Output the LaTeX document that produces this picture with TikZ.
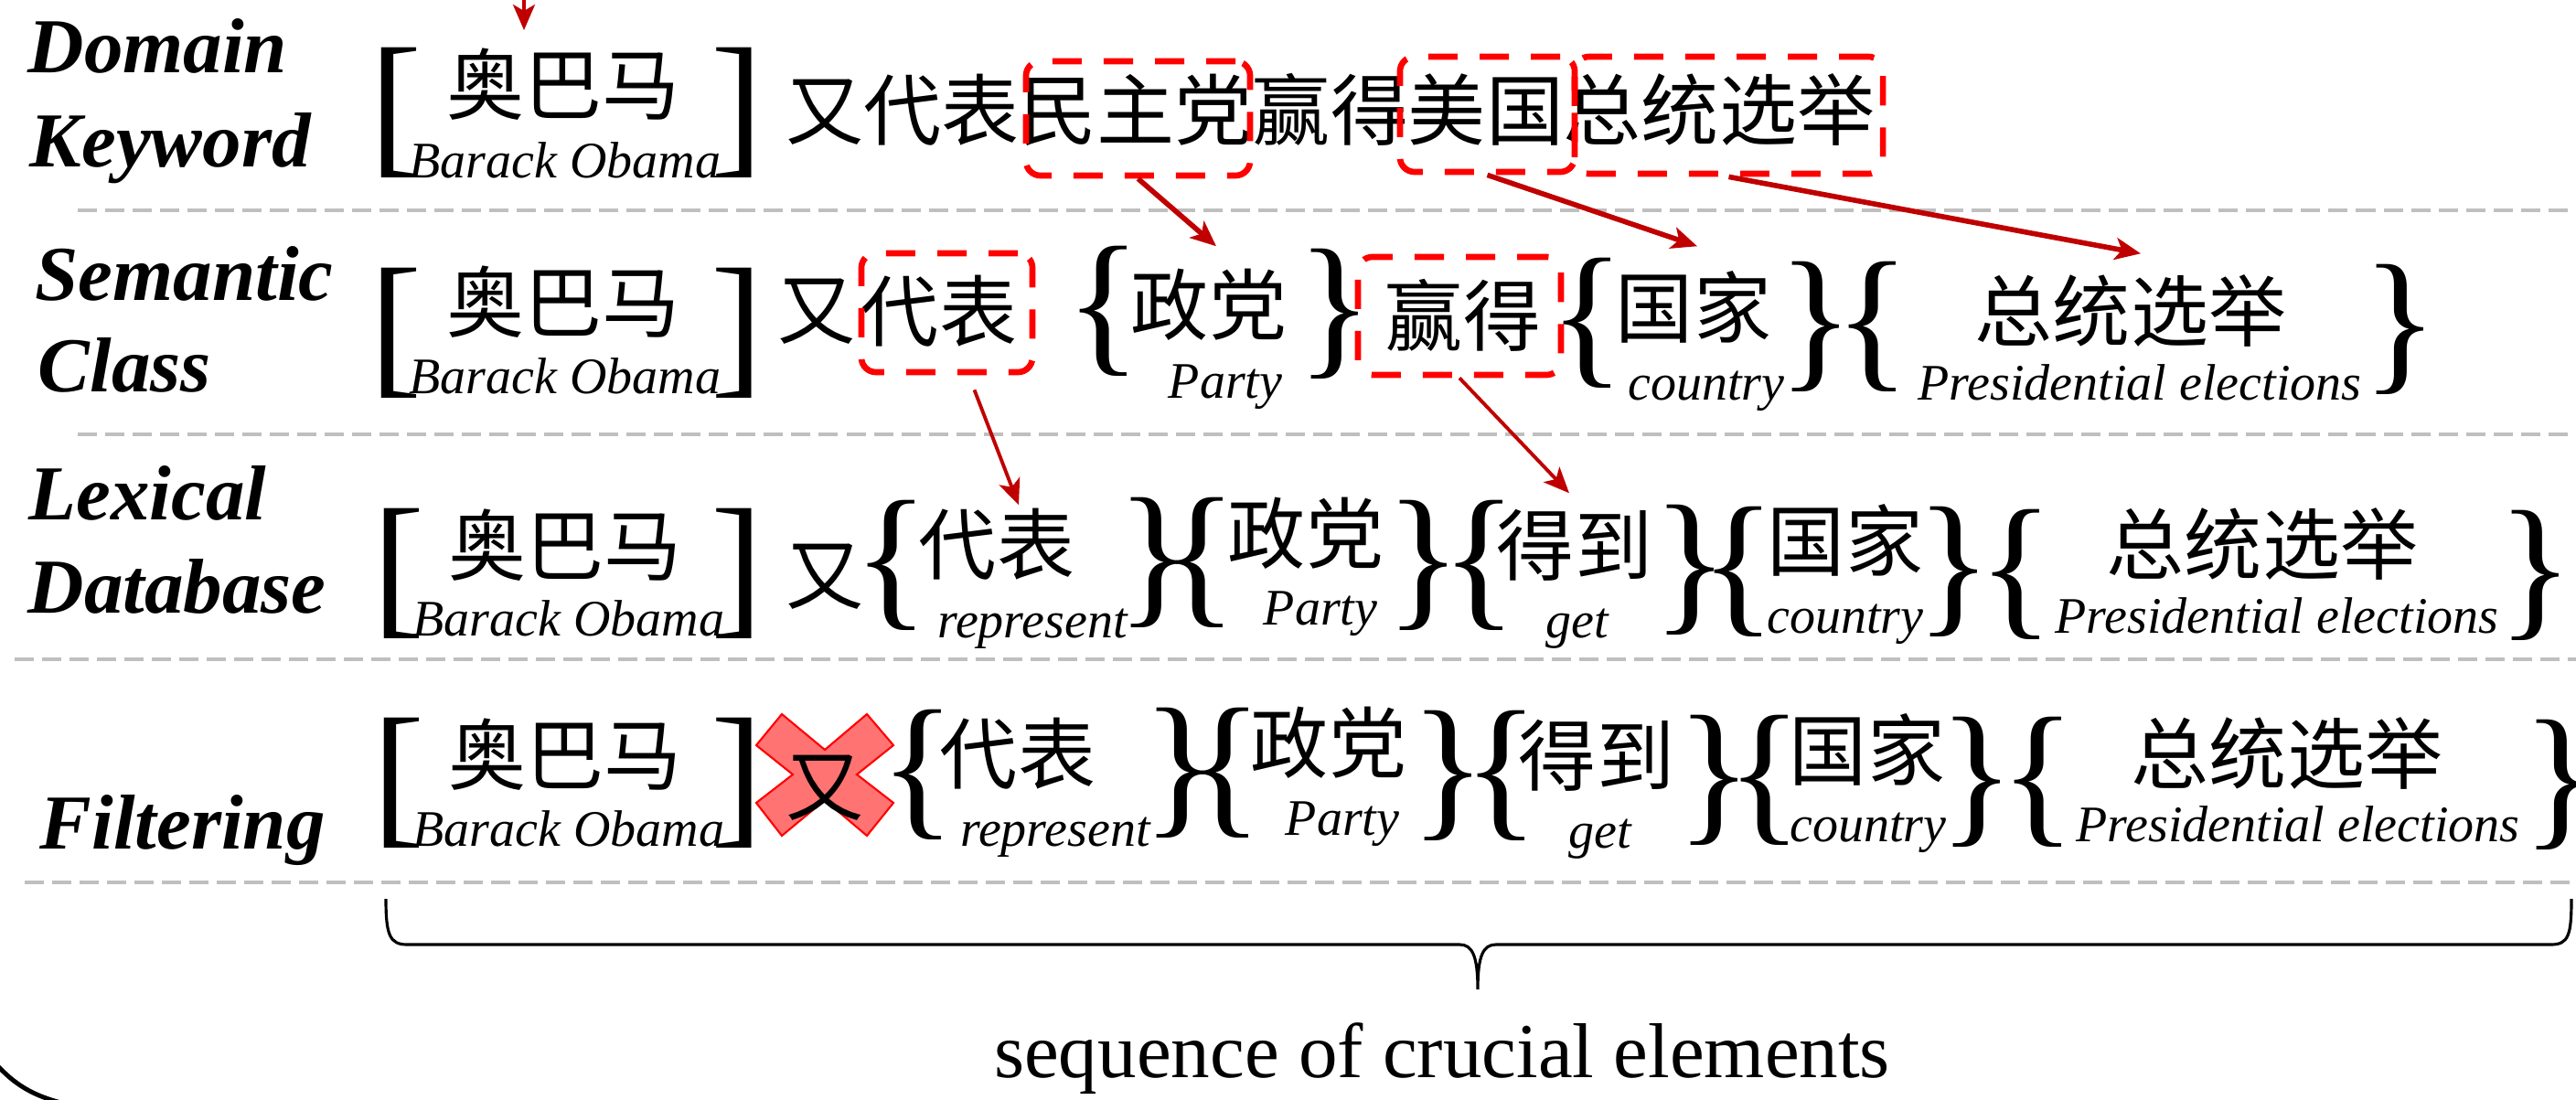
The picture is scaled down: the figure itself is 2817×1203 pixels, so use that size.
\documentclass[tikz,border=0pt]{standalone}
\usepackage{fontspec}
\setmainfont{Liberation Serif}
\newfontfamily\cjk{Noto Sans CJK SC}
\usetikzlibrary{arrows.meta,calc}
\definecolor{arrred}{RGB}{192,0,0}
\definecolor{sepgray}{RGB}{191,191,191}
\definecolor{xfill}{RGB}{255,115,115}
\begin{document}
\begin{tikzpicture}[x=0.01cm,y=-0.01cm,
  lab/.style={font=\fontsize{24.18pt}{29pt}\selectfont\bfseries\itshape, inner sep=0, anchor=base west},
  cj/.style={font=\cjk\fontsize{24.18pt}{24.18pt}\selectfont, inner sep=0, text height=0.70cm, text depth=0.06cm, anchor=center},
  sub/.style={font=\fontsize{15.93pt}{16pt}\selectfont\itshape, inner sep=0, anchor=base},
  dl/.style={font=\fontsize{48.9pt}{49pt}\selectfont, inner sep=0, anchor=center},
  redbox/.style={draw=red, line width=1.9pt, dash pattern=on 0.32cm off 0.24cm, rounded corners=0.16cm, inner sep=0},
  arr/.style={draw=arrred, -{Stealth[length=0.28cm,width=0.24cm,inset=0.07cm]}},
  thickarr/.style={arr, line width=1.6pt},
  thinarr/.style={arr, line width=1.1pt},
  sep/.style={draw=sepgray, line width=0.9pt, dash pattern=on 0.21cm off 0.09cm},
  seqlab/.style={font=\fontsize{24.18pt}{25pt}\selectfont, inner sep=0, anchor=base}]

\useasboundingbox (0,0) rectangle (2817,1203);

% separators
\draw[sep] (85,230) -- (2817,230);
\draw[sep] (85,475) -- (2817,475);
\draw[sep] (16,721) -- (2817,721);
\draw[sep] (27,965) -- (2817,965);

% row labels
\node[lab] (l1a) at (30,79) {Domain};
\node[lab] (l1b) at (32,182) {Keyword};
\node[lab] (l2a) at (38,328) {Semantic};
\node[lab] (l2b) at (41,428) {Class};
\node[lab] (l3a) at (31,568) {Lexical};
\node[lab] (l3b) at (30,670) {Database};
\node[lab] (l4) at (43,928) {Filtering};

% ---------- row 1
\node[dl] (r1bl) at (433,123) {[};
\node[dl] (r1br) at (806,123) {]};
\node[cj] (r1ob) at (616,92) {奥巴马};
\node[sub] (r1en) at (618,194) {Barack Obama};
\node[cj] (r1a) at (987,120) {又代表};
\node[cj] (r1b) at (1242,120) {民主党};
\node[cj] (r1c) at (1455,120) {赢得};
\node[cj] (r1d) at (1625,120) {美国};
\node[cj] (r1e) at (1880,120) {总统选举};
\node[redbox, minimum width=2.45cm, minimum height=1.25cm] (k2) at (1244.5,129.5) {};
\node[redbox, minimum width=1.91cm, minimum height=1.26cm] (k4) at (1626.5,125) {};
\node[redbox, minimum width=3.37cm, minimum height=1.28cm] (k5) at (1890.5,126) {};

% ---------- row 2
\node[dl] (r2bl) at (433,364) {[};
\node[dl] (r2br) at (806,364) {]};
\node[cj] (r2ob) at (616,330) {奥巴马};
\node[sub] (r2en) at (618,430) {Barack Obama};
\node[cj] (r2y) at (893,338) {又};
\node[cj] (r2a) at (1027,340) {代表};
\node[redbox, minimum width=1.87cm, minimum height=1.30cm] (s2) at (1035.5,342) {};
\node[dl] (r2o1) at (1207,340) {\{};
\node[cj] (r2c) at (1322,333) {政党};
\node[sub] (r2ce) at (1340,435) {Party};
\node[dl] (r2c1) at (1460,343) {\}};
\node[cj] (r2d) at (1600,345) {赢得};
\node[redbox, minimum width=2.22cm, minimum height=1.29cm] (s4) at (1596,345.5) {};
\node[dl] (r2o2) at (1736,353) {\{};
\node[cj] (r2e) at (1852,336) {国家};
\node[sub] (r2ee) at (1866,437) {country};
\node[dl] (r2c2) at (1986,357) {\}};
\node[dl] (r2o3) at (2048,357) {\{};
\node[cj] (r2f) at (2330,340) {总统选举};
\node[sub] (r2fe) at (2340,437) {Presidential elections};
\node[dl] (r2c3) at (2625,360) {\}};

% ---------- row 3
\node[dl] (r3bl) at (436,627) {[};
\node[dl] (r3br) at (806,627) {]};
\node[cj] (r3ob) at (618,596) {奥巴马};
\node[sub] (r3en) at (622,695) {Barack Obama};
\node[cj] (r3y) at (902,628) {又};
\node[dl] (r3o1) at (975,618) {\{};
\node[cj] (r3a) at (1090,595) {代表};
\node[sub] (r3ae) at (1129,697) {represent};
\node[dl] (r3c1) at (1263,615) {\}};
\node[dl] (r3o2) at (1312,615) {\{};
\node[cj] (r3b) at (1428,583) {政党};
\node[sub] (r3be) at (1444,683) {Party};
\node[dl] (r3c2) at (1557,618) {\}};
\node[dl] (r3o3) at (1618,618) {\{};
\node[cj] (r3c) at (1722,596) {得到};
\node[sub] (r3ce) at (1725,697) {get};
\node[dl] (r3c3) at (1849,623) {\}};
\node[dl] (r3o4) at (1901,625) {\{};
\node[cj] (r3d) at (2018,591) {国家};
\node[sub] (r3de) at (2018,692) {country};
\node[dl] (r3c4) at (2137,625) {\}};
\node[dl] (r3o5) at (2205,628) {\{};
\node[cj] (r3e) at (2474,595) {总统选举};
\node[sub] (r3ee) at (2490,692) {Presidential elections};
\node[dl] (r3c5) at (2773,629) {\}};

% ---------- row 4
\node[dl] (r4bl) at (436,856) {[};
\node[dl] (r4br) at (806,856) {]};
\node[cj] (r4ob) at (618,825) {奥巴马};
\node[sub] (r4en) at (622,925) {Barack Obama};
\draw[fill=xfill, draw=red, line width=0.6pt]
  (827,815) -- (855,781) -- (902,820) -- (948,781) -- (977,815) -- (937,847)
  -- (977,878) -- (948,914) -- (902,875) -- (855,914) -- (827,878) -- (867,847) -- cycle;
\node[cj] (r4y) at (902,859) {又};
\node[dl] (r4o1) at (1004,847) {\{};
\node[cj] (r4a) at (1113,824) {代表};
\node[sub] (r4ae) at (1154,925) {represent};
\node[dl] (r4c1) at (1291,845) {\}};
\node[dl] (r4o2) at (1340,845) {\{};
\node[cj] (r4b) at (1453,812) {政党};
\node[sub] (r4be) at (1468,913) {Party};
\node[dl] (r4c2) at (1584,848) {\}};
\node[dl] (r4o3) at (1642,848) {\{};
\node[cj] (r4c) at (1746,826) {得到};
\node[sub] (r4ce) at (1750,927) {get};
\node[dl] (r4c3) at (1875,853) {\}};
\node[dl] (r4o4) at (1930,853) {\{};
\node[cj] (r4d) at (2042,820) {国家};
\node[sub] (r4de) at (2043,920) {country};
\node[dl] (r4c4) at (2162,855) {\}};
\node[dl] (r4o5) at (2229,855) {\{};
\node[cj] (r4e) at (2501,824) {总统选举};
\node[sub] (r4ee) at (2513,920) {Presidential elections};
\node[dl] (r4c5) at (2800,858) {\}};

% ---------- arrows
\coordinate (topS) at (573,-30);
\coordinate (topT) at (573,33);
\draw[thinarr] (topS) -- (topT);
\draw[thickarr] (k2.south) -- ($(r2c.north)+(8,-25)$);
\draw[thickarr] (k4.south) -- ($(r2e.north)+(4,-28)$);
\draw[thickarr] (k5.south) -- ($(r2f.north)+(11,-24)$);
\draw[thinarr] ($(s2.south)+(30,16)$) -- ($(r3a.north)+(24,-4)$);
\draw[thinarr] (s4.south) -- ($(r3c.north)+(-6,-18)$);

% ---------- bottom brace and label
\coordinate (brL) at (422,983);
\coordinate (brR) at (2812,983);
\coordinate (brT) at (1616,1082);
\draw[line width=0.9pt] (brL) .. controls (422,1022) and (426,1033) .. (445,1033) -- (1596,1033)
  .. controls (1610,1033) and (1616,1045) .. (brT)
  .. controls (1616,1045) and (1622,1033) .. (1636,1033) -- (2790,1033)
  .. controls (2809,1033) and (2812,1022) .. (brR);
\node[seqlab] (seq) at (1577,1178) {sequence of crucial elements};

% bottom-left corner arc
\draw[line width=1.4pt] (-5,1163) .. controls (15,1185) and (35,1199) .. (75,1208);
\end{tikzpicture}
\end{document}
